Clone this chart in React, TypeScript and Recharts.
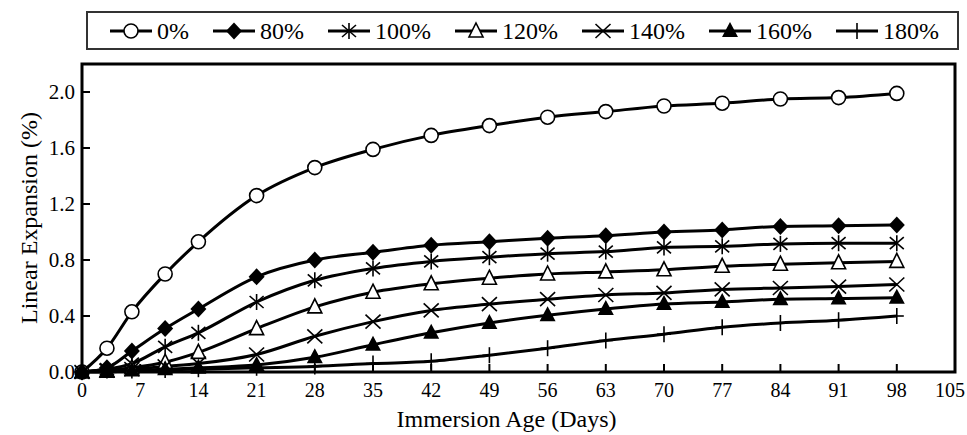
import React from "react";
import {
  Label,
  Line,
  LineChart,
  ReferenceArea,
  XAxis,
  YAxis,
} from "recharts";

// immersion age in days
const days = [0, 3, 6, 10, 14, 21, 28, 35, 42, 49, 56, 63, 70, 77, 84, 91, 98];

// linear expansion (%) per replacement level
const s0 = [0, 0.17, 0.43, 0.7, 0.93, 1.26, 1.46, 1.59, 1.69, 1.76, 1.82, 1.86, 1.9, 1.92, 1.95, 1.96, 1.99];
const s80 = [0, 0.03, 0.15, 0.31, 0.45, 0.68, 0.8, 0.855, 0.905, 0.93, 0.955, 0.973, 1.0, 1.015, 1.04, 1.044, 1.05];
const s100 = [0, 0.02, 0.06, 0.18, 0.28, 0.5, 0.655, 0.74, 0.79, 0.82, 0.845, 0.86, 0.89, 0.898, 0.915, 0.92, 0.92];
const s120 = [0, 0.01, 0.03, 0.07, 0.14, 0.31, 0.465, 0.57, 0.63, 0.67, 0.7, 0.715, 0.73, 0.755, 0.77, 0.78, 0.79];
const s140 = [0, 0.01, 0.02, 0.04, 0.06, 0.125, 0.255, 0.36, 0.44, 0.485, 0.52, 0.55, 0.565, 0.59, 0.6, 0.61, 0.625];
const s160 = [0, 0.0, 0.01, 0.02, 0.03, 0.05, 0.105, 0.195, 0.28, 0.35, 0.405, 0.45, 0.485, 0.5, 0.52, 0.525, 0.53];
const s180 = [0, 0.01, 0.01, 0.015, 0.02, 0.03, 0.04, 0.06, 0.076, 0.12, 0.17, 0.225, 0.27, 0.32, 0.35, 0.37, 0.4];

const xTicks = [0, 7, 14, 21, 28, 35, 42, 49, 56, 63, 70, 77, 84, 91, 98, 105];
const yTicks = [0, 0.4, 0.8, 1.2, 1.6, 2.0];

type Kind = "circle" | "diamond" | "asterisk" | "triOpen" | "cross" | "triFilled" | "plus";

const series: { key: string; name: string; kind: Kind; values: number[] }[] = [
  { key: "s0", name: "0%", kind: "circle", values: s0 },
  { key: "s80", name: "80%", kind: "diamond", values: s80 },
  { key: "s100", name: "100%", kind: "asterisk", values: s100 },
  { key: "s120", name: "120%", kind: "triOpen", values: s120 },
  { key: "s140", name: "140%", kind: "cross", values: s140 },
  { key: "s160", name: "160%", kind: "triFilled", values: s160 },
  { key: "s180", name: "180%", kind: "plus", values: s180 },
];

const data = days.map((d, i) => {
  const row: Record<string, number> = { day: d };
  series.forEach((s) => (row[s.key] = s.values[i]));
  return row;
});

const FONT = "'Liberation Serif', 'Times New Roman', serif";

function Marker({ kind, cx, cy }: { kind: Kind; cx: number; cy: number }) {
  if (cx == null || cy == null) return <g />;
  const sw = 1.6;
  switch (kind) {
    case "circle":
      return <circle cx={cx} cy={cy} r={7} fill="#fff" stroke="#000" strokeWidth={sw} />;
    case "diamond":
      return (
        <path
          d={`M${cx},${cy - 8.5} L${cx + 8},${cy} L${cx},${cy + 8.5} L${cx - 8},${cy} Z`}
          fill="#000"
        />
      );
    case "asterisk":
      return (
        <g stroke="#000" strokeWidth={sw}>
          <line x1={cx} y1={cy - 8} x2={cx} y2={cy + 8} />
          <line x1={cx - 7} y1={cy - 6} x2={cx + 7} y2={cy + 6} />
          <line x1={cx - 7} y1={cy + 6} x2={cx + 7} y2={cy - 6} />
        </g>
      );
    case "triOpen":
      return (
        <path
          d={`M${cx},${cy - 8} L${cx + 7},${cy + 6} L${cx - 7},${cy + 6} Z`}
          fill="#fff"
          stroke="#000"
          strokeWidth={sw}
        />
      );
    case "cross":
      return (
        <g stroke="#000" strokeWidth={sw}>
          <line x1={cx - 7.5} y1={cy - 7} x2={cx + 7.5} y2={cy + 7} />
          <line x1={cx - 7.5} y1={cy + 7} x2={cx + 7.5} y2={cy - 7} />
        </g>
      );
    case "triFilled":
      return <path d={`M${cx},${cy - 9} L${cx + 8},${cy + 6} L${cx - 8},${cy + 6} Z`} fill="#000" />;
    case "plus":
      return (
        <g stroke="#000" strokeWidth={sw}>
          <line x1={cx} y1={cy - 8} x2={cx} y2={cy + 8} />
          <line x1={cx - 7} y1={cy} x2={cx + 7} y2={cy} />
        </g>
      );
  }
}

// x tick label; the last one is nudged left so it stays inside the picture
function XTick({ x, y, payload }: any) {
  const last = payload.value === xTicks[xTicks.length - 1];
  return (
    <text
      x={x + (last ? -5 : 0)}
      y={y + 14}
      textAnchor="middle"
      fontSize={20}
      fontFamily={FONT}
      fill="#000"
    >
      {payload.value}
    </text>
  );
}

function LegendBox() {
  return (
    <div
      style={{
        position: "absolute",
        left: 86,
        top: 11,
        width: 873,
        height: 39,
        boxSizing: "border-box",
        border: "2px solid #333",
        display: "flex",
        alignItems: "center",
        paddingLeft: 22,
        gap: 24,
        fontFamily: FONT,
        fontSize: 24,
        color: "#000",
      }}
    >
      {series.map((s) => (
        <div key={s.key} style={{ display: "flex", alignItems: "center" }}>
          <svg width={42} height={22}>
            <line x1={0} y1={11} x2={42} y2={11} stroke="#000" strokeWidth={3} />
            <Marker kind={s.kind} cx={21} cy={11} />
          </svg>
          <span style={{ marginLeft: 5, lineHeight: "24px" }}>{s.name}</span>
        </div>
      ))}
    </div>
  );
}

export default function App() {
  return (
    <div style={{ position: "absolute", left: 0, top: 0, width: 967, height: 435, background: "#fff" }}>
      <LegendBox />
      <LineChart
        width={967}
        height={435}
        data={data}
        margin={{ top: 64, right: 12, bottom: 8.5, left: 0 }}
        style={{ fontFamily: FONT }}
      >
        <XAxis
          dataKey="day"
          type="number"
          domain={[0, 105]}
          ticks={xTicks}
          interval={0}
          height={54.5}
          axisLine={false}
          tickLine={{ stroke: "#000", strokeWidth: 2 }}
          tickSize={-8}
          tickMargin={18.5}
          tick={<XTick />}
        >
          <Label
            value="Immersion Age (Days)"
            position="insideBottom"
            offset={0}
            dx={-12}
            style={{ fontSize: 24, fill: "#000", fontFamily: FONT }}
          />
        </XAxis>
        <YAxis
          type="number"
          domain={[0, 2.2]}
          ticks={yTicks}
          interval={0}
          width={82}
          axisLine={false}
          tickLine={{ stroke: "#000", strokeWidth: 2 }}
          tickSize={-8}
          tickMargin={15}
          tickFormatter={(v: number) => v.toFixed(1)}
          tick={{ fontSize: 21, fill: "#000", fontFamily: FONT }}
        >
          <Label
            value="Linear Expansion (%)"
            angle={-90}
            position="insideLeft"
            offset={28}
            style={{ fontSize: 24, fill: "#000", fontFamily: FONT, textAnchor: "middle" }}
          />
        </YAxis>
        <ReferenceArea x1={0} x2={105} y1={0} y2={2.2} fill="none" stroke="#000" strokeWidth={3} />
        {series.map((s) => (
          <Line
            key={s.key}
            dataKey={s.key}
            type="monotone"
            stroke="#000"
            strokeWidth={3}
            isAnimationActive={false}
            dot={(p: any) => <Marker key={`${s.key}-${p.index}`} kind={s.kind} cx={p.cx} cy={p.cy} />}
            activeDot={false}
          />
        ))}
      </LineChart>
    </div>
  );
}
